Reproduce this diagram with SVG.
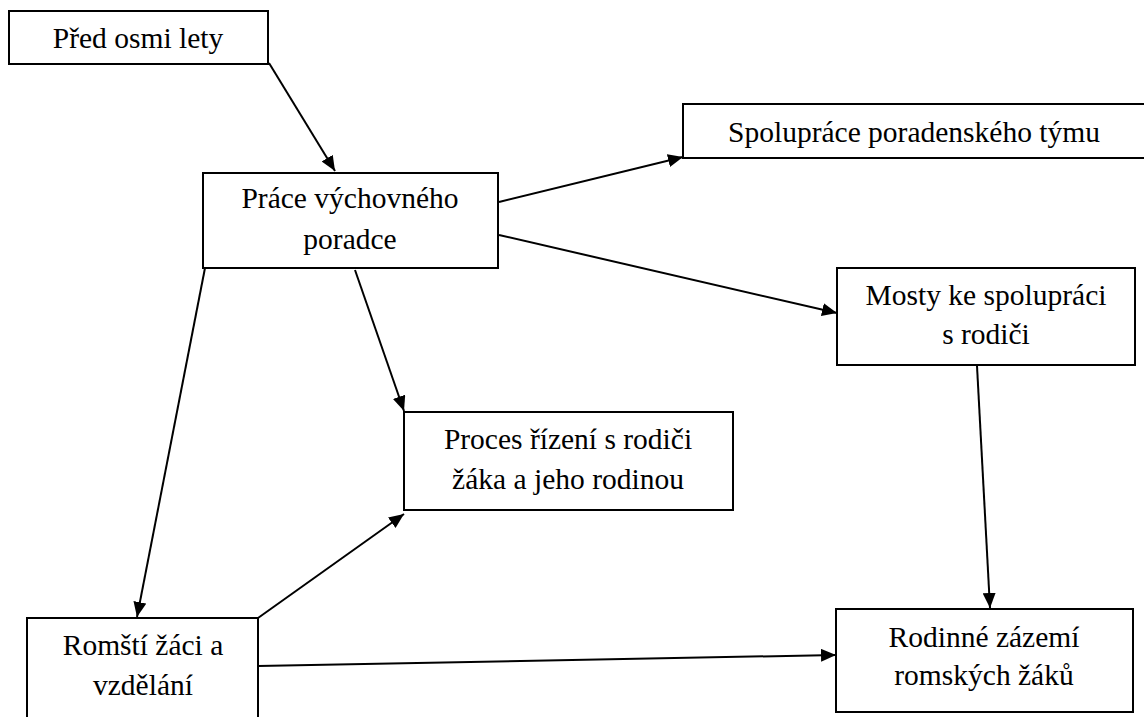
<svg xmlns="http://www.w3.org/2000/svg" width="1144" height="717" viewBox="0 0 1144 717">
  <style>
    .box { fill: #ffffff; stroke: #000000; stroke-width: 2; }
    .lbl { font-size: 29.5px; fill: #000000; text-anchor: middle; }
    .edge { stroke: #000000; stroke-width: 2; fill: none; marker-end: url(#arrow); }
  </style>
  <defs>
    <marker id="arrow" markerUnits="userSpaceOnUse" markerWidth="15" markerHeight="13" refX="15" refY="6.5" orient="auto">
      <path d="M0,0 L15,6.5 L0,13 z" fill="#000000"/>
    </marker>
  </defs>
  <rect width="1144" height="717" fill="#ffffff"/>

  <g id="connectors">
    <line class="edge" x1="269" y1="63" x2="335" y2="171"/>
    <line class="edge" x1="499" y1="202" x2="683" y2="157"/>
    <line class="edge" x1="499" y1="235" x2="837" y2="313"/>
    <line class="edge" x1="205" y1="268" x2="137" y2="617"/>
    <line class="edge" x1="355" y1="270" x2="404" y2="411"/>
    <line class="edge" x1="258" y1="618" x2="404" y2="514"/>
    <line class="edge" x1="258" y1="666" x2="836" y2="655"/>
    <line class="edge" x1="977" y1="366" x2="990" y2="608"/>
  </g>

  <g font-family="Liberation Serif, Times New Roman, serif">
    <g id="pred-osmi-lety">
      <rect class="box" x="9" y="11" width="259" height="53"/>
      <text class="lbl" x="138" y="48">Před osmi lety</text>
    </g>

    <g id="prace-vychovneho-poradce">
      <rect class="box" x="203" y="173" width="295" height="95"/>
      <text class="lbl" x="350" y="208">Práce výchovného</text>
      <text class="lbl" x="350" y="249">poradce</text>
    </g>

    <g id="spoluprace-poradenskeho-tymu">
      <rect class="box" x="683" y="104" width="470" height="54"/>
      <text class="lbl" x="914" y="142">Spolupráce poradenského týmu</text>
    </g>

    <g id="mosty-ke-spolupraci">
      <rect class="box" x="837" y="268" width="298" height="97"/>
      <text class="lbl" x="986" y="305">Mosty ke spolupráci</text>
      <text class="lbl" x="986" y="344">s rodiči</text>
    </g>

    <g id="proces-rizeni">
      <rect class="box" x="404" y="412" width="329" height="98"/>
      <text class="lbl" x="568" y="449">Proces řízení s rodiči</text>
      <text class="lbl" x="568" y="489">žáka a jeho rodinou</text>
    </g>

    <g id="romsti-zaci">
      <rect class="box" x="27" y="618" width="231" height="110"/>
      <text class="lbl" x="143" y="655">Romští žáci a</text>
      <text class="lbl" x="143" y="695">vzdělání</text>
    </g>

    <g id="rodinne-zazemi">
      <rect class="box" x="836" y="609" width="297" height="103"/>
      <text class="lbl" x="984" y="647">Rodinné zázemí</text>
      <text class="lbl" x="984" y="685">romských žáků</text>
    </g>
  </g>
</svg>
